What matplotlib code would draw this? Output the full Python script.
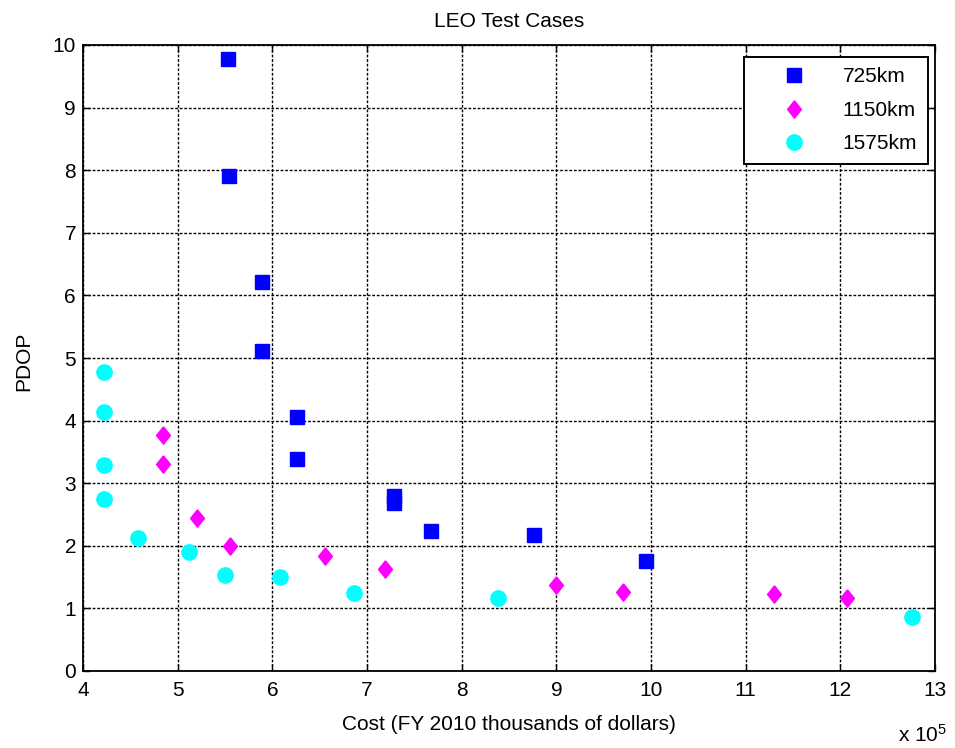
import matplotlib
matplotlib.use("Agg")
import matplotlib.pyplot as plt
from matplotlib.ticker import MultipleLocator

plt.rcParams['font.family'] = ['Liberation Sans', 'DejaVu Sans']
plt.rcParams['mathtext.fontset'] = 'custom'
plt.rcParams['mathtext.rm'] = 'Liberation Sans'
plt.rcParams['mathtext.it'] = 'Liberation Sans:italic'

# Cost values in units of 1e5 (FY 2010 thousands of dollars)
cost_725 = [5.53, 5.54, 5.89, 5.89, 6.26, 6.26, 7.29, 7.29, 7.68, 8.76, 9.95]
pdop_725 = [9.77, 7.91, 6.21, 5.11, 4.05, 3.39, 2.80, 2.68, 2.23, 2.17, 1.75]

cost_1150 = [4.85, 4.85, 5.20, 5.55, 6.56, 7.19, 9.00, 9.70, 11.30, 12.07]
pdop_1150 = [3.77, 3.31, 2.45, 2.00, 1.83, 1.63, 1.37, 1.26, 1.23, 1.17]

cost_1575 = [4.22, 4.22, 4.22, 4.22, 4.58, 5.12, 5.50, 6.08, 6.86, 8.38, 12.76]
pdop_1575 = [4.78, 4.13, 3.29, 2.75, 2.13, 1.90, 1.53, 1.50, 1.24, 1.16, 0.87]

labels = ['725km', '1150km', '1575km']

fig = plt.figure(figsize=(9.55, 7.48), dpi=100)
ax = fig.add_axes([83/955, 1 - 671/748, (935-83)/955, (671-45)/748])

diamond = [(0, 1), (0.8, 0), (0, -1), (-0.8, 0), (0, 1)]

ax.plot(cost_725, pdop_725, ls='none', marker='s', ms=10.5, color='#0000ff',
        mec='#0000ff', label=labels[0])
ax.plot(cost_1150, pdop_1150, ls='none', marker=diamond, ms=12.5, color='#ff00ff',
        mec='#ff00ff', label=labels[1])
ax.plot(cost_1575, pdop_1575, ls='none', marker='o', ms=11, color='#00ffff',
        mec='#00ffff', label=labels[2])

ax.set_xlim(4, 13)
ax.set_ylim(0, 10)
ax.xaxis.set_major_locator(MultipleLocator(1))
ax.yaxis.set_major_locator(MultipleLocator(1))
ax.set_axisbelow(True)
ax.grid(True, color='black', linestyle=(0, (2.0, 1.3)), linewidth=1.0)
ax.tick_params(direction='in', top=True, right=True, labelsize=15, length=5,
               width=1.0)
ax.tick_params(axis='x', pad=7)
ax.tick_params(axis='y', pad=5)
for s in ax.spines.values():
    s.set_linewidth(1.3)

ax.set_title('LEO Test Cases', fontsize=15, pad=13)
ax.set_xlabel('Cost (FY 2010 thousands of dollars)', fontsize=15)
ax.xaxis.set_label_coords(0.5, -0.070)
ax.set_ylabel('PDOP', fontsize=15)
ax.yaxis.set_label_coords(-0.058, 0.495)
ax.text(1.014, -0.1134, r'x 10$^{5}$', transform=ax.transAxes, fontsize=15,
        ha='right', va='baseline')

leg = ax.legend(loc='upper right', bbox_to_anchor=(0.9915, 0.9808), fontsize=15,
                frameon=True, fancybox=False, edgecolor='black', framealpha=1,
                borderpad=0.5, labelspacing=0.69, handletextpad=0.45,
                handlelength=3.8, borderaxespad=0)
leg.get_frame().set_linewidth(1.4)

fig.savefig('out.png', dpi=100)
